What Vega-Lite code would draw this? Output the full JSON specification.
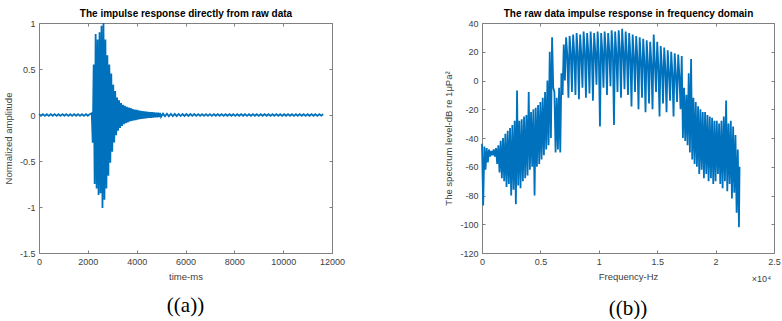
{
"$schema":"https://vega.github.io/schema/vega-lite/v6.json",
"background":"white",
"padding":{"left":3,"top":8,"right":4,"bottom":0},
"spacing":98,
"config":{
 "view":{"stroke":null},
 "axis":{"grid":false,"labelFlush":false,"labelOverlap":false,"domainColor":"#808080","domainWidth":1,"tickColor":"#808080","tickSize":-3,"labelColor":"#404040","labelFont":"Liberation Sans","labelFontSize":9,"labelPadding":7,"titleFont":"Liberation Sans","titleFontSize":9.5,"titleFontWeight":"normal","titleColor":"#404040"}
},
"datasets":{
"a":[
{"t":0,"v":0.009},{"t":80,"v":-0.008},{"t":160,"v":0.009},{"t":240,"v":-0.009},{"t":320,"v":0.008},{"t":400,"v":-0.009},{"t":480,"v":0.01},{"t":560,"v":-0.008},{"t":640,"v":0.009},{"t":720,"v":-0.009},{"t":800,"v":0.008},{"t":880,"v":-0.009},{"t":960,"v":0.009},{"t":1040,"v":-0.008},{"t":1120,"v":0.009},{"t":1200,"v":-0.01},{"t":1280,"v":0.008},{"t":1360,"v":-0.009},{"t":1440,"v":0.009},{"t":1520,"v":-0.008},{"t":1600,"v":0.009},{"t":1680,"v":-0.009},{"t":1760,"v":0.008},{"t":1840,"v":-0.009},{"t":1920,"v":0.01},{"t":2000,"v":-0.008},{"t":2080,"v":0.009},
{"t":2160,"v":0.02},{"t":2200,"v":-0.3},{"t":2240,"v":0.55},{"t":2280,"v":-0.75},{"t":2320,"v":0.88},{"t":2360,"v":-0.8},{"t":2400,"v":0.82},{"t":2440,"v":-0.87},{"t":2480,"v":0.9},{"t":2520,"v":-0.85},{"t":2560,"v":0.97},{"t":2600,"v":-1.01},{"t":2640,"v":1.0},{"t":2680,"v":-0.92},{"t":2720,"v":0.82},{"t":2760,"v":-0.8},{"t":2800,"v":0.65},{"t":2840,"v":-0.66},{"t":2880,"v":0.55},{"t":2920,"v":-0.52},{"t":2960,"v":0.45},{"t":3000,"v":-0.4},{"t":3040,"v":0.33},{"t":3080,"v":-0.3},{"t":3120,"v":0.26},{"t":3160,"v":-0.22},{"t":3200,"v":0.19},{"t":3240,"v":-0.17},{"t":3280,"v":0.16},{"t":3320,"v":-0.14},{"t":3360,"v":0.13},{"t":3400,"v":-0.12},{"t":3440,"v":0.11},{"t":3480,"v":-0.1},{"t":3520,"v":0.1},{"t":3560,"v":-0.09},{"t":3600,"v":0.09},{"t":3640,"v":-0.08},{"t":3680,"v":0.08},{"t":3720,"v":-0.07},{"t":3760,"v":0.075},{"t":3800,"v":-0.065},{"t":3840,"v":0.065},{"t":3880,"v":-0.06},{"t":3920,"v":0.06},{"t":3960,"v":-0.055},{"t":4000,"v":0.055},{"t":4040,"v":-0.05},{"t":4080,"v":0.05},{"t":4120,"v":-0.045},{"t":4160,"v":0.045},{"t":4200,"v":-0.042},{"t":4240,"v":0.042},{"t":4280,"v":-0.04},{"t":4320,"v":0.04},{"t":4360,"v":-0.038},{"t":4400,"v":0.036},{"t":4440,"v":-0.035},{"t":4480,"v":0.034},{"t":4520,"v":-0.032},{"t":4560,"v":0.032},{"t":4600,"v":-0.03},{"t":4640,"v":0.03},{"t":4680,"v":-0.028},{"t":4720,"v":0.028},{"t":4760,"v":-0.026},{"t":4800,"v":0.026},{"t":4840,"v":-0.025},{"t":4880,"v":0.024},{"t":4920,"v":-0.022},{"t":4960,"v":0.022},{"t":5000,"v":-0.02},
{"t":5080,"v":0.015},{"t":5160,"v":-0.014},{"t":5240,"v":0.014},{"t":5320,"v":-0.013},{"t":5400,"v":0.013},{"t":5480,"v":-0.012},{"t":5560,"v":0.012},{"t":5640,"v":-0.012},{"t":5720,"v":0.011},{"t":5800,"v":-0.011},{"t":5880,"v":0.011},{"t":5960,"v":-0.01},{"t":6040,"v":0.01},{"t":6120,"v":-0.01},{"t":6200,"v":0.01},{"t":6280,"v":-0.009},{"t":6360,"v":0.01},{"t":6440,"v":-0.009},{"t":6520,"v":0.009},{"t":6600,"v":-0.009},{"t":6680,"v":0.009},{"t":6760,"v":-0.009},{"t":6840,"v":0.009},{"t":6920,"v":-0.009},{"t":7000,"v":0.009},{"t":7080,"v":-0.009},{"t":7160,"v":0.009},{"t":7240,"v":-0.008},{"t":7320,"v":0.009},{"t":7400,"v":-0.008},{"t":7480,"v":0.009},{"t":7560,"v":-0.009},{"t":7640,"v":0.008},{"t":7720,"v":-0.008},{"t":7800,"v":0.009},{"t":7880,"v":-0.008},{"t":7960,"v":0.008},{"t":8040,"v":-0.009},{"t":8120,"v":0.008},{"t":8200,"v":-0.008},{"t":8280,"v":0.009},{"t":8360,"v":-0.008},{"t":8440,"v":0.008},{"t":8520,"v":-0.009},{"t":8600,"v":0.008},{"t":8680,"v":-0.008},{"t":8760,"v":0.009},{"t":8840,"v":-0.008},{"t":8920,"v":0.008},{"t":9000,"v":-0.009},{"t":9080,"v":0.008},{"t":9160,"v":-0.008},{"t":9240,"v":0.01},{"t":9320,"v":-0.008},{"t":9400,"v":0.008},{"t":9480,"v":-0.009},{"t":9560,"v":0.008},{"t":9640,"v":-0.008},{"t":9720,"v":0.009},{"t":9800,"v":-0.008},{"t":9880,"v":0.008},{"t":9960,"v":-0.009},{"t":10040,"v":0.008},{"t":10120,"v":-0.008},{"t":10200,"v":0.009},{"t":10280,"v":-0.008},{"t":10360,"v":0.008},{"t":10440,"v":-0.009},{"t":10520,"v":0.008},{"t":10600,"v":-0.008},{"t":10680,"v":0.009},{"t":10760,"v":-0.008},{"t":10840,"v":0.008},{"t":10920,"v":-0.009},{"t":11000,"v":0.008},{"t":11080,"v":-0.008},{"t":11160,"v":0.009},{"t":11240,"v":-0.008},{"t":11320,"v":0.008},{"t":11400,"v":-0.009},{"t":11480,"v":0.008},{"t":11560,"v":-0.008},{"t":11640,"v":0.008}
],
"b":[
{"f":0,"d":-44},{"f":100,"d":-87},{"f":200,"d":-46},{"f":300,"d":-62},{"f":400,"d":-47},{"f":500,"d":-57},{"f":600,"d":-48},{"f":700,"d":-53},{"f":800,"d":-49},{"f":900,"d":-52},{"f":1000,"d":-48},{"f":1100,"d":-53},{"f":1200,"d":-47},{"f":1300,"d":-58},{"f":1400,"d":-45},{"f":1500,"d":-64},{"f":1600,"d":-42},{"f":1700,"d":-68},{"f":1800,"d":-40},{"f":1900,"d":-70},{"f":2000,"d":-37},{"f":2100,"d":-74},{"f":2200,"d":-35},{"f":2300,"d":-72},{"f":2400,"d":-33},{"f":2500,"d":-80},{"f":2600,"d":-31},{"f":2700,"d":-76},{"f":2800,"d":-28},{"f":2900,"d":-86},{"f":3000,"d":-7},{"f":3100,"d":-73},{"f":3200,"d":-28},{"f":3300,"d":-75},{"f":3400,"d":-27},{"f":3500,"d":-70},{"f":3600,"d":-25},{"f":3700,"d":-68},{"f":3800,"d":-24},{"f":3900,"d":-66},{"f":4000,"d":-8},{"f":4100,"d":-62},{"f":4200,"d":-22},{"f":4300,"d":-60},{"f":4400,"d":-20},{"f":4500,"d":-80},{"f":4600,"d":-19},{"f":4700,"d":-60},{"f":4800,"d":-17},{"f":4900,"d":-58},{"f":5000,"d":-15},{"f":5100,"d":-55},{"f":5200,"d":-12},{"f":5300,"d":-52},{"f":5400,"d":-8},{"f":5500,"d":-48},{"f":5600,"d":0},{"f":5700,"d":-45},{"f":5800,"d":20},{"f":5900,"d":-40},{"f":6000,"d":30},{"f":6100,"d":-5},{"f":6200,"d":-8},{"f":6300,"d":-50},{"f":6400,"d":-12},{"f":6500,"d":-48},{"f":6600,"d":-5},{"f":6700,"d":-50},{"f":6800,"d":5},{"f":6900,"d":-10},{"f":7000,"d":25},{"f":7100,"d":0},
{"f":7200,"d":30},{"f":7300,"d":18},{"f":7400,"d":-12},{"f":7500,"d":31},{"f":7600,"d":20},{"f":7700,"d":-8},{"f":7800,"d":32},{"f":7900,"d":19},{"f":8000,"d":-10},{"f":8100,"d":33},{"f":8200,"d":20},{"f":8300,"d":-13},{"f":8400,"d":32},{"f":8500,"d":18},{"f":8600,"d":-5},{"f":8700,"d":34},{"f":8800,"d":21},{"f":8900,"d":-12},{"f":9000,"d":33},{"f":9100,"d":20},{"f":9200,"d":-9},{"f":9300,"d":34},{"f":9400,"d":19},{"f":9500,"d":-14},{"f":9600,"d":33},{"f":9700,"d":20},{"f":9800,"d":-3},{"f":9900,"d":34},{"f":10000,"d":18},{"f":10100,"d":-32},{"f":10200,"d":33},{"f":10300,"d":20},{"f":10400,"d":-5},{"f":10500,"d":34},{"f":10600,"d":21},{"f":10700,"d":-10},{"f":10800,"d":33},{"f":10900,"d":20},{"f":11000,"d":-4},{"f":11100,"d":35},{"f":11200,"d":21},{"f":11300,"d":-31},{"f":11400,"d":34},{"f":11500,"d":19},{"f":11600,"d":-8},{"f":11700,"d":35},{"f":11800,"d":22},{"f":11900,"d":-12},{"f":12000,"d":36},{"f":12100,"d":20},{"f":12200,"d":-6},{"f":12300,"d":34},{"f":12400,"d":19},{"f":12500,"d":-10},{"f":12600,"d":33},{"f":12700,"d":18},{"f":12800,"d":-18},{"f":12900,"d":32},{"f":13000,"d":17},{"f":13100,"d":-8},{"f":13200,"d":31},{"f":13300,"d":16},{"f":13400,"d":-20},{"f":13500,"d":30},{"f":13600,"d":15},{"f":13700,"d":-12},{"f":13800,"d":29},{"f":13900,"d":14},{"f":14000,"d":-22},{"f":14100,"d":28},{"f":14200,"d":13},{"f":14300,"d":-16},{"f":14400,"d":27},{"f":14500,"d":12},{"f":14600,"d":-20},{"f":14700,"d":32},{"f":14800,"d":12},{"f":14900,"d":-8},{"f":15000,"d":27},{"f":15100,"d":10},{"f":15200,"d":-25},{"f":15300,"d":24},{"f":15400,"d":10},{"f":15500,"d":-16},{"f":15600,"d":23},{"f":15700,"d":8},{"f":15800,"d":-22},{"f":15900,"d":21},{"f":16000,"d":6},{"f":16100,"d":-14},{"f":16200,"d":20},{"f":16300,"d":5},{"f":16400,"d":-25},{"f":16500,"d":19},{"f":16600,"d":4},{"f":16700,"d":-15},{"f":16800,"d":18},{"f":16900,"d":3},{"f":17000,"d":-20},
{"f":17100,"d":17},{"f":17200,"d":-40},{"f":17300,"d":-5},{"f":17400,"d":-42},{"f":17500,"d":-10},{"f":17600,"d":-45},{"f":17700,"d":5},{"f":17800,"d":-50},{"f":17900,"d":15},{"f":18000,"d":-55},{"f":18100,"d":-12},{"f":18200,"d":-58},{"f":18300,"d":-15},{"f":18400,"d":-60},{"f":18500,"d":-18},{"f":18600,"d":-65},{"f":18700,"d":-20},{"f":18800,"d":-62},{"f":18900,"d":-22},{"f":19000,"d":-68},{"f":19100,"d":-22},{"f":19200,"d":-65},{"f":19300,"d":-24},{"f":19400,"d":-70},{"f":19500,"d":-25},{"f":19600,"d":-68},{"f":19700,"d":-26},{"f":19800,"d":-72},{"f":19900,"d":-28},{"f":20000,"d":-70},{"f":20100,"d":-28},{"f":20200,"d":-65},{"f":20300,"d":-30},{"f":20400,"d":-72},{"f":20500,"d":-28},{"f":20600,"d":-75},{"f":20700,"d":-25},{"f":20800,"d":-70},{"f":20900,"d":-14},{"f":21000,"d":-77},{"f":21100,"d":-30},{"f":21200,"d":-72},{"f":21300,"d":-28},{"f":21400,"d":-82},{"f":21500,"d":-32},{"f":21600,"d":-78},{"f":21700,"d":-38},{"f":21800,"d":-92},{"f":21900,"d":-48},{"f":22000,"d":-102},{"f":22050,"d":-60}
]
},
"hconcat":[
{
 "width":293,"height":230,
 "data":{"name":"a"},
 "title":{"text":"((a))","orient":"bottom","font":"Liberation Serif","fontSize":21,"fontWeight":"normal","color":"#000000","frame":"group","anchor":"middle","offset":14},
 "layer":[
  {"mark":{"type":"line","color":"#0072BD","strokeWidth":1.8},
   "encoding":{
    "x":{"field":"t","type":"quantitative","scale":{"domain":[0,12000],"nice":false,"zero":false},"axis":{"orient":"bottom","values":[0,2000,4000,6000,8000,10000,12000],"labelExpr":"toString(datum.value)","title":"time-ms","titlePadding":5}},
    "y":{"field":"v","type":"quantitative","scale":{"domain":[-1.5,1],"nice":false,"zero":false},"axis":{"orient":"left","values":[-1.5,-1,-0.5,0,0.5,1],"labelExpr":"toString(datum.value)","title":"Normalized amplitude","titlePadding":6}}}},
  {"mark":{"type":"line","strokeOpacity":0},
   "encoding":{
    "x":{"field":"t","type":"quantitative","axis":{"orient":"top","values":[0,2000,4000,6000,8000,10000,12000],"labels":false,"title":"The impulse response directly from raw data","titleFontWeight":"bold","titleFontSize":10,"titleColor":"#000000","titlePadding":4}},
    "y":{"field":"v","type":"quantitative","axis":{"orient":"right","values":[-1.5,-1,-0.5,0,0.5,1],"labels":false,"title":null}}}}
 ],
 "resolve":{"axis":{"x":"independent","y":"independent"}}
},
{
 "width":292,"height":230,
 "data":{"name":"b"},
 "title":{"text":"((b))","orient":"bottom","font":"Liberation Serif","fontSize":21,"fontWeight":"normal","color":"#000000","frame":"group","anchor":"middle","offset":14},
 "layer":[
  {"mark":{"type":"line","color":"#0072BD","strokeWidth":1.8},
   "encoding":{
    "x":{"field":"f","type":"quantitative","scale":{"domain":[0,25000],"nice":false,"zero":false},"axis":{"orient":"bottom","values":[0,5000,10000,15000,20000,25000],"labelExpr":"toString(datum.value/10000)","title":"Frequency-Hz","titlePadding":5}},
    "y":{"field":"d","type":"quantitative","scale":{"domain":[-120,40],"nice":false,"zero":false},"axis":{"orient":"left","values":[-120,-100,-80,-60,-40,-20,0,20,40],"labelExpr":"toString(datum.value)","title":"The spectrum level-dB re 1μPa²","titlePadding":6}}}},
  {"mark":{"type":"line","strokeOpacity":0},
   "encoding":{
    "x":{"field":"f","type":"quantitative","axis":{"orient":"top","values":[0,5000,10000,15000,20000,25000],"labels":false,"title":"The raw data impulse response in frequency domain","titleFontWeight":"bold","titleFontSize":10,"titleColor":"#000000","titlePadding":4}},
    "y":{"field":"d","type":"quantitative","axis":{"orient":"right","values":[-120,-100,-80,-60,-40,-20,0,20,40],"labels":false,"title":null}}}},
  {"data":{"values":[{"f":25000,"d":-120,"s":"×10⁴"}]},
   "mark":{"type":"text","align":"right","baseline":"middle","dx":-3,"dy":26,"font":"Liberation Sans","fontSize":9,"color":"#404040"},
   "encoding":{
    "x":{"field":"f","type":"quantitative","axis":null},
    "y":{"field":"d","type":"quantitative","axis":null},
    "text":{"field":"s"}}}
 ],
 "resolve":{"axis":{"x":"independent","y":"independent"}}
}
]
}
